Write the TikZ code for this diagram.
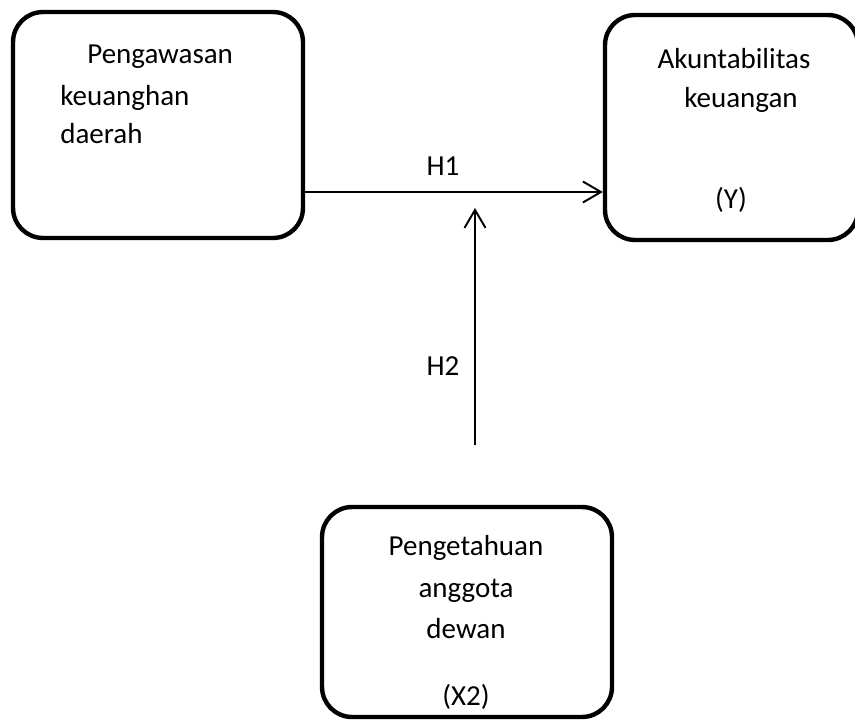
\documentclass[tikz,border=0pt]{standalone}
\usepackage{fontspec}
\setmainfont{Carlito}
\usetikzlibrary{arrows.meta, positioning}
\tikzset{
  varbox/.style={draw, line width=2.5pt, rounded corners=0.6cm, inner sep=0pt},
  lbl/.style={font=\fontsize{16.5pt}{20pt}\selectfont, inner sep=0pt, anchor=base},
  link/.style={-{Straight Barb[length=0.36cm,width=0.42cm]}, line width=1.1pt}
}

\begin{document}
\begin{tikzpicture}[x=0.02cm, y=-0.02cm]
  \useasboundingbox (0,0) rectangle (855,720);
  % variable boxes
  \node[varbox, minimum width=5.8cm, minimum height=4.52cm] (pengawasan) at (158,125) {};
  \node[varbox, minimum width=5.06cm, minimum height=4.5cm] (akuntabilitas) at (731.5,127.5) {};
  \node[varbox, minimum width=5.8cm, minimum height=4.2cm] (pengetahuan) at (467,612) {};
  % box texts
  \node[lbl, anchor=base west] (xa1) at (87,63) {Pengawasan};
  \node[lbl, anchor=base west] (xa2) at (60,105) {keuanghan};
  \node[lbl, anchor=base west] (xa3) at (60,143) {daerah};
  \foreach \x/\y/\t [count=\i] in {734/68/Akuntabilitas, 741/107/keuangan, 731/208/{(Y)}}{
    \node[lbl] (ya\i) at (\x,\y) {\t};
  }
  \foreach \y/\t [count=\i] in {555/Pengetahuan, 597/anggota, 638/dewan, 705/{(X2)}}{
    \node[lbl] (xb\i) at (466,\y) {\t};
  }
  % hypotheses
  \coordinate (h2from) at (475,445);
  \coordinate (h2to) at (475,208);
  \draw[link] (pengawasan.east |- 0,192) -- (akuntabilitas.west |- 0,192);
  \draw[link] (h2from) -- (h2to);
  \node[lbl] (h1) at (443,175) {H1};
  \node[lbl] (h2) at (443,375) {H2};
\end{tikzpicture}
\end{document}
